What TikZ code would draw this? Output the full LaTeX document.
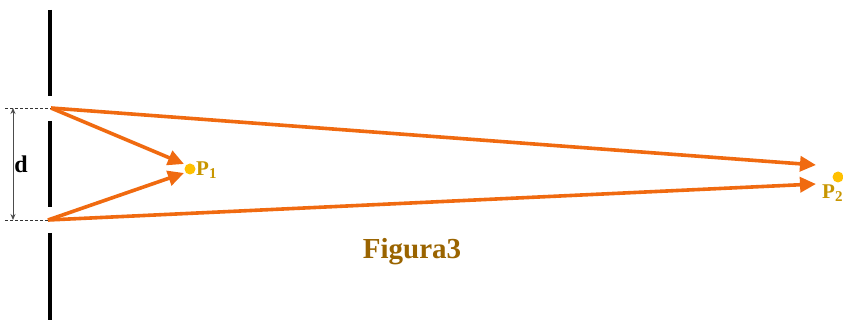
\documentclass[tikz,border=0pt]{standalone}
\usepackage{fontspec}
\setmainfont{Liberation Serif}
\usetikzlibrary{arrows.meta}
\definecolor{ray}{HTML}{F06A10}
\definecolor{dotc}{HTML}{FFC000}
\definecolor{lab}{HTML}{C89600}
\definecolor{title}{HTML}{9A6400}
\tikzset{
  wall/.style={line width=4.5pt, black},
  rayarrow/.style={ray, line width=3.6pt, -{Triangle[length=16pt,width=15pt]}},
  guide/.style={densely dashed, line width=0.7pt, black!80},
  pdot/.style={circle, fill=dotc, inner sep=0pt, minimum size=11pt},
  plabel/.style={font=\bfseries\fontsize{21}{21}\selectfont, text=lab, inner sep=0pt, anchor=west},
}
\begin{document}
\begin{tikzpicture}[x=1pt,y=-1pt]
\useasboundingbox (0,0) rectangle (843,320);
% barrier
\draw[wall] (50,10) -- (50,96);
\draw[wall] (50,121) -- (50,207);
\draw[wall] (50,233) -- (50,320);
% sources
\coordinate (S1) at (51,108);
\coordinate (S2) at (48,220);
\coordinate (G1) at (5,108);
\coordinate (G2) at (5,220);
\draw[guide] (G1) -- (S1);
\draw[guide] (G2) -- (S2);
\coordinate (D1) at (13,108);
\coordinate (D2) at (13,220);
\draw[black!70, line width=1pt, {Stealth[length=6pt,width=5pt]}-{Stealth[length=6pt,width=5pt]}] (D1) -- (D2);
\node[font=\bfseries\fontsize{24}{24}\selectfont, inner sep=0pt] (d) at (21,164) {d};
% points
\node[pdot] (P1) at (190,169) {};
\node[plabel] (P1l) at (196,170) {P\textsubscript{\fontsize{15}{15}\selectfont 1}};
\node[pdot] (P2) at (838,177) {};
\node[plabel] (P2l) at (822,193) {P\textsubscript{\fontsize{15}{15}\selectfont 2}};
\coordinate (T1a) at (184,164);
\coordinate (T1b) at (184,173);
\coordinate (T2a) at (816,165);
\coordinate (T2b) at (816,184);
% rays
\draw[rayarrow] (S1) -- (T1a);
\draw[rayarrow] (S2) -- (T1b);
\draw[rayarrow] (S1) -- (T2a);
\draw[rayarrow] (S2) -- (T2b);
% title
\node[font=\bfseries\fontsize{29}{29}\selectfont, text=title, inner sep=0pt] (fig) at (412,252) {Figura3};
\end{tikzpicture}
\end{document}
